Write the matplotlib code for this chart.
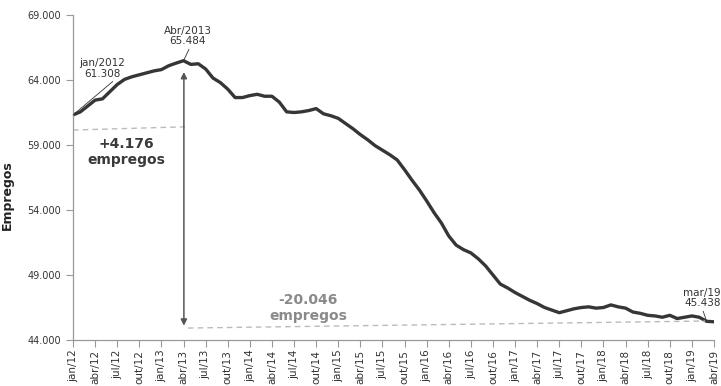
import numpy as np
import matplotlib
matplotlib.use("Agg")
import matplotlib.pyplot as plt
from matplotlib.ticker import FuncFormatter

# monthly employment, jan/12 .. abr/19
empregos = [61308, 61550, 62000, 62450, 62550, 63100, 63650, 64050, 64250, 64400,
            64550, 64700, 64800, 65100, 65300, 65484, 65200, 65250, 64850, 64150,
            63800, 63300, 62650, 62650, 62800, 62900, 62750, 62750, 62300, 61550,
            61500, 61550, 61650, 61800, 61400, 61250, 61050, 60650, 60250, 59800,
            59400, 58950, 58600, 58250, 57850, 57100, 56300, 55550, 54700, 53800,
            53000, 52000, 51300, 50950, 50700, 50250, 49700, 49000, 48300, 48000,
            47650, 47350, 47050, 46800, 46500, 46300, 46100, 46250, 46400, 46500,
            46550, 46450, 46500, 46700, 46550, 46450, 46150, 46050, 45900, 45850,
            45750, 45900, 45650, 45750, 45850, 45750, 45438, 45400]

meses = ["jan", "abr", "jul", "out"]
anos = ["12", "13", "14", "15", "16", "17", "18", "19"]
rotulos_x = [m + "/" + a for a in anos for m in meses][:30]

yticks = [44000, 49000, 54000, 59000, 64000, 69000]

x = np.arange(len(empregos))

fig = plt.figure(figsize=(7.21, 3.86), dpi=100)
ax = fig.add_axes([73 / 721, 1 - 340 / 386, (714 - 73) / 721, (340 - 15) / 386])

ax.plot(x, empregos, color="#363636", lw=2.4, solid_joinstyle="round")

ax.set_xlim(0, 87)
ax.set_ylim(44000, 69000)
ax.set_yticks(yticks)
ax.yaxis.set_major_formatter(FuncFormatter(lambda v, p: f"{int(v):,}".replace(",", ".")))
ax.set_xticks(x[::3])
ax.set_xticklabels(rotulos_x, rotation=90, fontsize=7.5, color="#333333")
ax.tick_params(axis="y", labelsize=7, labelcolor="#333333", length=5, color="#999999")
ax.tick_params(axis="x", length=5, color="#999999", pad=2)

for s in ["top", "right"]:
    ax.spines[s].set_visible(False)
for s in ["left", "bottom"]:
    ax.spines[s].set_color("#999999")
    ax.spines[s].set_linewidth(0.9)

ax.set_ylabel("Empregos", fontsize=9, fontweight="bold", color="#222222")
ax.yaxis.set_label_coords(-0.092, 0.446)

dark = "#333333"

# point labels
ax.annotate("jan/2012\n61.308", xy=(0, 61308), xytext=(4.0, 64900), ha="center", va="center",
            fontsize=7.5, color=dark, linespacing=1.1,
            arrowprops=dict(arrowstyle="-", color=dark, lw=0.6, shrinkA=0, shrinkB=0, relpos=(0.85, 0.1)))
ax.annotate("Abr/2013\n65.484", xy=(15, 65484), xytext=(15.6, 67385), ha="center", va="center",
            fontsize=7.5, color=dark, linespacing=1.1,
            arrowprops=dict(arrowstyle="-", color=dark, lw=0.6, shrinkA=0, shrinkB=0, relpos=(0.55, 0)))
ax.annotate("mar/19\n45.438", xy=(86, 45438), xytext=(85.4, 47230), ha="center", va="center",
            fontsize=7.5, color=dark, linespacing=1.1, annotation_clip=False,
            arrowprops=dict(arrowstyle="-", color=dark, lw=0.6, shrinkA=0, shrinkB=0, relpos=(0.5, 0)))

# reference dashed lines
ax.plot([0, 15.2], [60150, 60400], ls=(0, (4, 3)), color="#bbbbbb", lw=1)
ax.plot([15.6, 85.8], [44920, 45460], ls=(0, (4, 3)), color="#bbbbbb", lw=1)

# vertical double arrow
ax.annotate("", xy=(15.05, 64615), xytext=(15.05, 45100),
            arrowprops=dict(arrowstyle="<|-|>", color="#555555", lw=1.1,
                            mutation_scale=9, shrinkA=0, shrinkB=0))

ax.text(7.3, 58460, "+4.176\nempregos", ha="center", va="center", fontsize=10,
        fontweight="bold", color="#3a3a3a", linespacing=1.1)
ax.text(31.9, 46460, "-20.046\nempregos", ha="center", va="center", fontsize=10,
        fontweight="bold", color="#8a8a8a", linespacing=1.1)

fig.savefig("out.png", dpi=100)
